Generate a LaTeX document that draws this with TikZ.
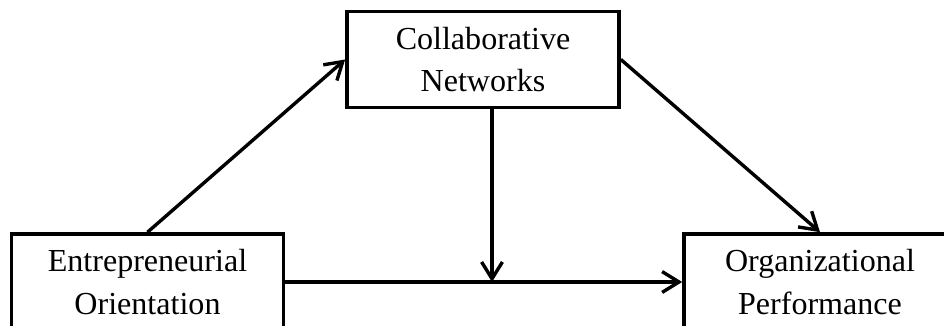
\documentclass[tikz,border=0pt]{standalone}
\usepackage{fontspec}
\setmainfont{Liberation Serif}
\usetikzlibrary{arrows.meta}

\tikzset{
  var/.style={draw, line width=0.09cm, minimum width=6.8cm, minimum height=2.4cm,
    align=center, inner sep=0pt, font=\fontsize{22.8}{30}\selectfont},
  link/.style={line width=0.085cm, -{Straight Barb[length=0.42cm,width=0.52cm]}},
}

\begin{document}
\begin{tikzpicture}[x=0.025cm, y=-0.025cm]
\useasboundingbox (0,0) rectangle (944,326);
\clip (0,0) rectangle (944,326);

\node[var] (cn) at (483,59.5) {Collaborative\\Networks};
\node[var] (eo) at (147.5,282) {Entrepreneurial\\Orientation};
\node[var] (op) at (820,282) {Organizational\\Performance};
\coordinate (m) at (492,282);

\draw[link] (eo.north) -- (cn.west);
\draw[link] (cn.east) -- (op.north);
\draw[link] (eo.east) -- (op.west);
\draw[link] (m |- cn.south) -- (m);
\end{tikzpicture}
\end{document}
